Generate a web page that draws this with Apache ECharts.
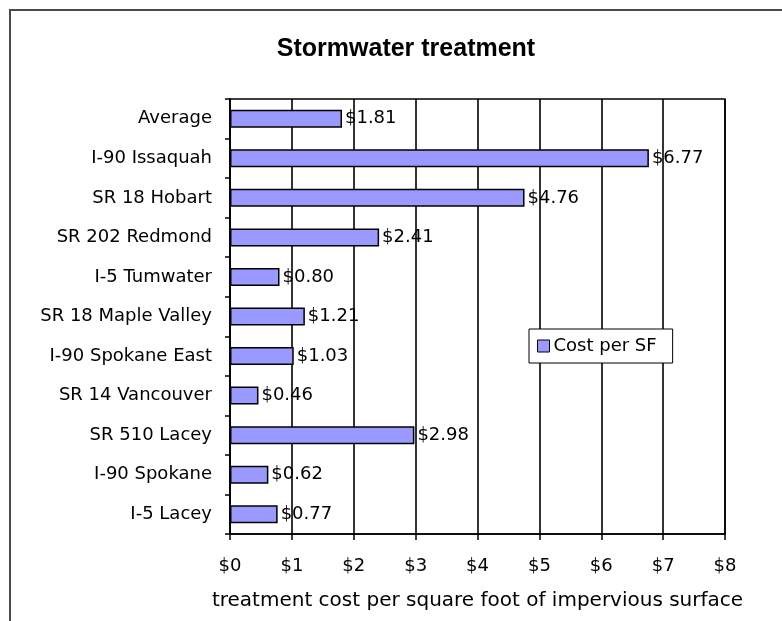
<!DOCTYPE html>
<html>
<head>
<meta charset="utf-8">
<script src="https://cdn.jsdelivr.net/npm/echarts@6/dist/echarts.min.js"></script>
<style>
  html, body { margin: 0; padding: 0; background: #fff; }
  #chart { width: 782px; height: 621px; }
</style>
</head>
<body>
<div id="chart"></div>
<script>
const chartTitle = 'Stormwater treatment';
const categories = ['Average', 'I-90 Issaquah', 'SR 18 Hobart', 'SR 202 Redmond', 'I-5 Tumwater',
  'SR 18 Maple Valley', 'I-90 Spokane East', 'SR 14 Vancouver', 'SR 510 Lacey', 'I-90 Spokane', 'I-5 Lacey'];
const costPerSF = [1.81, 6.77, 4.76, 2.41, 0.80, 1.21, 1.03, 0.46, 2.98, 0.62, 0.77];
const seriesName = 'Cost per SF';
const xAxisTitle = 'treatment cost per square foot of impervious surface';
const xMin = 0, xMax = 8, xStep = 1;

const FONT = 'DejaVu Sans';
const chart = echarts.init(document.getElementById('chart'), null, { renderer: 'canvas' });
chart.setOption({
  backgroundColor: '#fff',
  animation: false,
  graphic: [{
    type: 'rect',
    shape: { x: 10, y: 10, width: 820, height: 700 },
    style: { fill: 'none', stroke: '#4a4a4a', lineWidth: 2 },
    silent: true
  }],
  title: {
    text: chartTitle,
    left: 401,
    textAlign: 'center',
    top: 32,
    textStyle: { fontFamily: 'Liberation Sans', fontWeight: 'bold', fontSize: 25, color: '#000' }
  },
  legend: {
    data: [seriesName],
    left: 529,
    top: 329,
    orient: 'vertical',
    backgroundColor: '#fff',
    borderColor: '#000',
    borderWidth: 1,
    padding: [8, 16, 8, 8],
    itemWidth: 12,
    itemHeight: 12,
    itemGap: 0,
    icon: 'rect',
    itemStyle: { color: '#9999FF', borderColor: '#000', borderWidth: 1 },
    textStyle: { fontFamily: FONT, fontSize: 18, color: '#000', padding: [0, 0, 0, -1] }
  },
  grid: {
    left: 230, right: 782 - 725, top: 99, bottom: 621 - 534,
    show: true, borderColor: '#000', borderWidth: 1.5, backgroundColor: 'transparent',
    containLabel: false
  },
  xAxis: {
    type: 'value',
    min: xMin, max: xMax, interval: xStep,
    name: xAxisTitle,
    nameLocation: 'middle',
    nameGap: 57,
    nameTextStyle: { fontFamily: FONT, fontSize: 20, color: '#000' },
    axisLine: { show: true, lineStyle: { color: '#000', width: 1.5 } },
    axisTick: { show: true, length: 6, lineStyle: { color: '#000', width: 1.5 } },
    axisLabel: {
      margin: 23,
      fontFamily: FONT, fontSize: 18, color: '#000',
      formatter: v => '$' + v
    },
    splitLine: { show: true, lineStyle: { color: '#000', width: 1.6 } }
  },
  yAxis: {
    type: 'category',
    data: categories,
    inverse: true,
    axisLine: { show: true, lineStyle: { color: '#000', width: 1.5 } },
    axisTick: { show: true, length: 5, alignWithLabel: false, lineStyle: { color: '#000', width: 1.5 } },
    axisLabel: { margin: 18, fontFamily: FONT, fontSize: 18, color: '#000' },
    splitLine: { show: false }
  },
  series: [{
    name: seriesName,
    type: 'bar',
    data: costPerSF,
    barWidth: 18,
    itemStyle: { color: '#9999FF', borderColor: '#000', borderWidth: 1.5 },
    label: {
      show: true,
      position: 'right',
      distance: 3,
      fontFamily: FONT, fontSize: 18, color: '#000',
      formatter: p => '$' + p.value.toFixed(2)
    }
  }]
});
</script>
</body>
</html>
